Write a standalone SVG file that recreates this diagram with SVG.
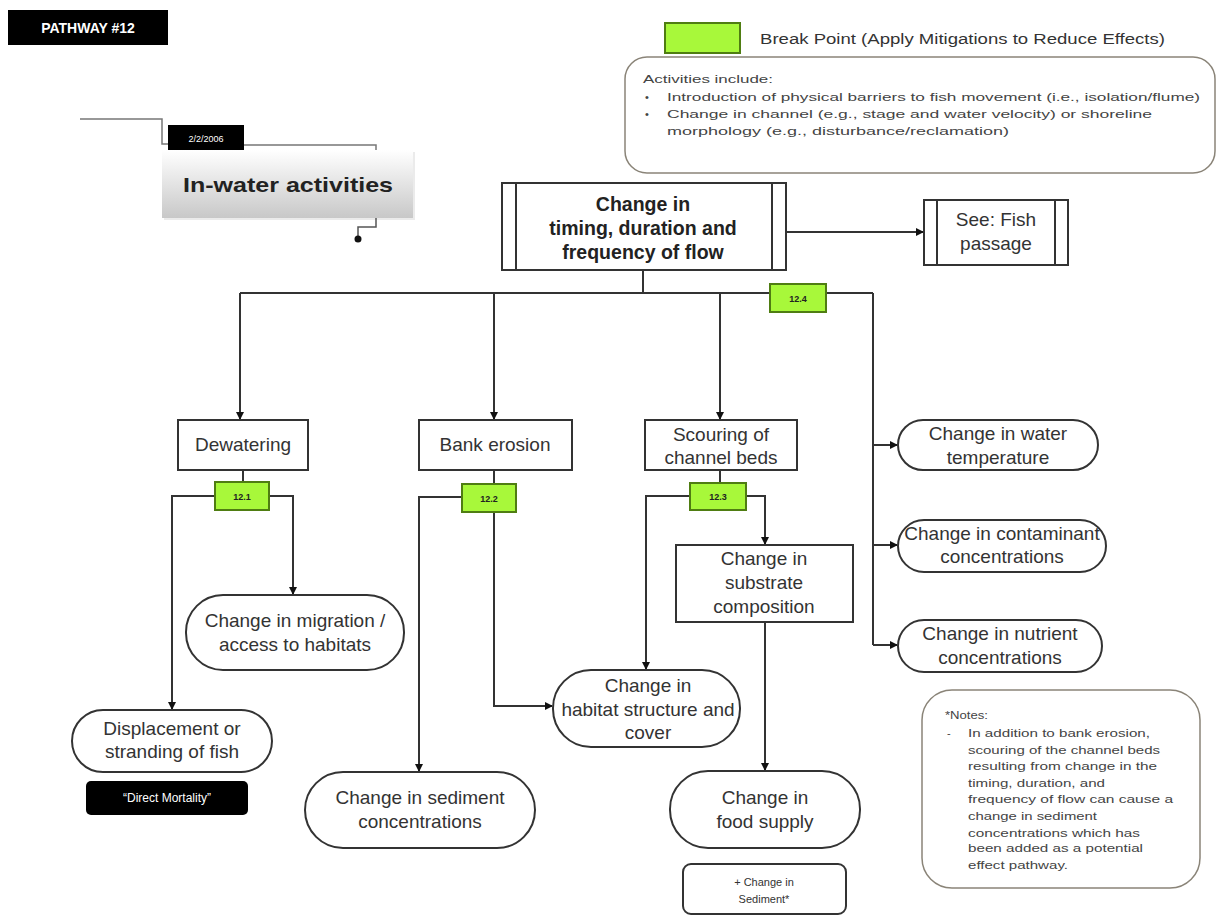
<svg xmlns="http://www.w3.org/2000/svg" width="1217" height="916" viewBox="0 0 1217 916">
<defs>
<marker id="ah" markerWidth="8" markerHeight="8" refX="7" refY="4" orient="auto" markerUnits="userSpaceOnUse">
<path d="M0,0 L8,4 L0,8 Z" fill="#111"/>
</marker>
<linearGradient id="gr" x1="0" y1="0" x2="0" y2="1">
<stop offset="0" stop-color="#ffffff"/>
<stop offset="1" stop-color="#c8c8c8"/>
</linearGradient>
</defs>
<style>
text{font-family:"Liberation Sans",Arial,sans-serif;fill:#333;}
.n{font-size:19px;text-anchor:middle;}
.b{font-weight:bold;fill:#222;font-size:19.5px;}
.box{fill:#fff;stroke:#333;stroke-width:2;}
.gp{fill:#a8f83a;stroke:#4f7d12;stroke-width:2;}
.gt{font-size:9px;font-weight:bold;text-anchor:middle;fill:#222;}
.c{fill:none;stroke:#333;stroke-width:2;}
.ca{fill:none;stroke:#333;stroke-width:2;marker-end:url(#ah);}
.note{fill:#fff;stroke:#8a8478;stroke-width:1.5;}
.s{font-size:11px;fill:#444;}
.ns{font-size:11px;fill:#444;}
</style>
<rect width="1217" height="916" fill="#fff"/>

<g id="pathway">
<rect x="8" y="10" width="160" height="35" fill="#000"/>
<text x="88" y="33" font-size="14" font-weight="bold" text-anchor="middle" style="fill:#fff">PATHWAY #12</text>
</g>

<g id="inwater">
<polyline points="80,119 162,119 162,144 170,144" fill="none" stroke="#777" stroke-width="1.5"/>
<polyline points="243,145 376,145 376,150" fill="none" stroke="#777" stroke-width="1.5"/>
<rect x="164" y="152" width="251" height="68" fill="#ddd" opacity="0.6"/>
<rect x="162" y="150" width="251" height="68" fill="url(#gr)"/>
<rect x="168" y="125" width="76" height="25" fill="#000"/>
<text x="206" y="142" font-size="9" text-anchor="middle" style="fill:#fff">2/2/2006</text>
<text x="183" y="192" font-size="21" font-weight="bold" textLength="210" lengthAdjust="spacingAndGlyphs" style="fill:#222">In-water activities</text>
<polyline points="376,218 376,227 358,227 358,238" fill="none" stroke="#555" stroke-width="1.5"/>
<circle cx="358" cy="239" r="3.5" fill="#111"/>
</g>

<g id="legend">
<rect x="665" y="23" width="75" height="30" class="gp"/>
<text x="760" y="44" font-size="14" textLength="405" lengthAdjust="spacingAndGlyphs" style="fill:#333">Break Point (Apply Mitigations to Reduce Effects)</text>
</g>

<g id="activities">
<rect x="625" y="57" width="590" height="116" rx="22" class="note"/>
<text x="643" y="83" class="s" textLength="130" lengthAdjust="spacingAndGlyphs">Activities include:</text>
<text x="645" y="101" class="s">•</text>
<text x="667" y="101" class="s" textLength="533" lengthAdjust="spacingAndGlyphs">Introduction of physical barriers to fish movement (i.e., isolation/flume)</text>
<text x="645" y="118" class="s">•</text>
<text x="667" y="118" class="s" textLength="485" lengthAdjust="spacingAndGlyphs">Change in channel (e.g., stage and water velocity) or shoreline</text>
<text x="667" y="135" class="s" textLength="342" lengthAdjust="spacingAndGlyphs">morphology (e.g., disturbance/reclamation)</text>
</g>

<g id="connectors">
<polyline class="c" points="643,270 643,293"/>
<polyline class="c" points="240,293 873,293"/>
<polyline class="ca" points="240,293 240,419"/>
<polyline class="ca" points="494,293 494,419"/>
<polyline class="ca" points="720,293 720,419"/>
<polyline class="c" points="873,293 873,645"/>
<polyline class="ca" points="873,445 897,445"/>
<polyline class="ca" points="873,545 897,545"/>
<polyline class="ca" points="873,645 897,645"/>
<polyline class="ca" points="786,232 923,232"/>
<polyline class="c" points="243,470 243,484"/>
<polyline class="ca" points="215,496 172,496 172,709"/>
<polyline class="ca" points="269,496 293,496 293,594"/>
<polyline class="c" points="494,470 494,486"/>
<polyline class="ca" points="462,497 419,497 419,771"/>
<polyline class="ca" points="494,512 494,706 552,706"/>
<polyline class="c" points="720,470 720,485"/>
<polyline class="ca" points="690,496 646,496 646,669"/>
<polyline class="ca" points="746,496 765,496 765,544"/>
<polyline class="ca" points="765,622 765,770"/>
</g>

<g id="main">
<rect x="502" y="183" width="284" height="87" class="box"/>
<line x1="516" y1="183" x2="516" y2="270" stroke="#333" stroke-width="2"/>
<line x1="772" y1="183" x2="772" y2="270" stroke="#333" stroke-width="2"/>
<text x="643" y="211" class="n b">Change in</text>
<text x="643" y="235" class="n b">timing, duration and</text>
<text x="643" y="259" class="n b">frequency of flow</text>
</g>

<g id="fishpassage">
<rect x="924" y="200" width="144" height="65" class="box"/>
<line x1="937" y1="200" x2="937" y2="265" stroke="#333" stroke-width="2"/>
<line x1="1055" y1="200" x2="1055" y2="265" stroke="#333" stroke-width="2"/>
<text x="996" y="226" class="n">See: Fish</text>
<text x="996" y="250" class="n">passage</text>
</g>

<g id="bp124"><rect x="770" y="284" width="56" height="28" class="gp"/><text x="798" y="302" class="gt">12.4</text></g>

<g id="dewatering">
<rect x="178" y="420" width="130" height="50" class="box"/>
<text x="243" y="451" class="n">Dewatering</text>
</g>
<g id="bankerosion">
<rect x="419" y="420" width="153" height="50" class="box"/>
<text x="495" y="451" class="n">Bank erosion</text>
</g>
<g id="scouring">
<rect x="645" y="420" width="152" height="50" class="box"/>
<text x="721" y="441" class="n">Scouring of</text>
<text x="721" y="464" class="n">channel beds</text>
</g>

<g id="watertemp">
<rect x="898" y="420" width="200" height="50" rx="25" class="box"/>
<text x="998" y="440" class="n">Change in water</text>
<text x="998" y="464" class="n">temperature</text>
</g>
<g id="contaminant">
<rect x="898" y="520" width="208" height="52" rx="26" class="box"/>
<text x="1002" y="540" class="n">Change in contaminant</text>
<text x="1002" y="563" class="n">concentrations</text>
</g>
<g id="nutrient">
<rect x="898" y="620" width="204" height="52" rx="26" class="box"/>
<text x="1000" y="640" class="n">Change in nutrient</text>
<text x="1000" y="664" class="n">concentrations</text>
</g>

<g id="bp121"><rect x="215" y="482" width="54" height="28" class="gp"/><text x="242" y="500" class="gt">12.1</text></g>
<g id="bp122"><rect x="462" y="484" width="54" height="28" class="gp"/><text x="489" y="502" class="gt">12.2</text></g>
<g id="bp123"><rect x="690" y="483" width="56" height="27" class="gp"/><text x="718" y="500" class="gt">12.3</text></g>

<g id="migration">
<rect x="186" y="595" width="218" height="75" rx="37" class="box"/>
<text x="295" y="627" class="n">Change in migration /</text>
<text x="295" y="651" class="n">access to habitats</text>
</g>
<g id="displacement">
<rect x="72" y="710" width="200" height="62" rx="31" class="box"/>
<text x="172" y="735" class="n">Displacement or</text>
<text x="172" y="758" class="n">stranding of fish</text>
</g>
<g id="mortality">
<rect x="86" y="781" width="162" height="34" rx="5" fill="#000"/>
<text x="167" y="802" font-size="12" text-anchor="middle" style="fill:#fff">“Direct Mortality”</text>
</g>

<g id="substrate">
<rect x="676" y="545" width="177" height="77" class="box"/>
<text x="764" y="565" class="n">Change in</text>
<text x="764" y="589" class="n">substrate</text>
<text x="764" y="613" class="n">composition</text>
</g>
<g id="habitat">
<rect x="553" y="670" width="187" height="77" rx="38" class="box"/>
<text x="648" y="692" class="n">Change in</text>
<text x="648" y="716" class="n">habitat structure and</text>
<text x="648" y="739" class="n">cover</text>
</g>
<g id="sediment">
<rect x="305" y="772" width="230" height="76" rx="38" class="box"/>
<text x="420" y="804" class="n">Change in sediment</text>
<text x="420" y="828" class="n">concentrations</text>
</g>
<g id="food">
<rect x="670" y="771" width="190" height="77" rx="38" class="box"/>
<text x="765" y="804" class="n">Change in</text>
<text x="765" y="828" class="n">food supply</text>
</g>
<g id="plussediment">
<rect x="683" y="864" width="163" height="50" rx="8" class="box"/>
<text x="764" y="886" font-size="11" text-anchor="middle" style="fill:#333">+ Change in</text>
<text x="764" y="903" font-size="11" text-anchor="middle" style="fill:#333">Sediment*</text>
</g>

<g id="notes">
<rect x="922" y="690" width="278" height="198" rx="30" class="note"/>
<text x="945" y="719" class="ns" textLength="43" lengthAdjust="spacingAndGlyphs">*Notes:</text>
<text x="947" y="737" class="ns">-</text>
<text x="968" y="737" class="ns" textLength="182" lengthAdjust="spacingAndGlyphs">In addition  to bank  erosion,</text>
<text x="968" y="754" class="ns" textLength="192" lengthAdjust="spacingAndGlyphs">scouring  of  the channel  beds</text>
<text x="968" y="770" class="ns" textLength="189" lengthAdjust="spacingAndGlyphs">resulting  from change  in the</text>
<text x="968" y="787" class="ns" textLength="137" lengthAdjust="spacingAndGlyphs">timing,  duration,  and</text>
<text x="968" y="803" class="ns" textLength="205" lengthAdjust="spacingAndGlyphs">frequency  of flow can  cause  a</text>
<text x="968" y="820" class="ns" textLength="129" lengthAdjust="spacingAndGlyphs">change  in sediment</text>
<text x="968" y="837" class="ns" textLength="172" lengthAdjust="spacingAndGlyphs">concentrations   which  has</text>
<text x="968" y="852" class="ns" textLength="175" lengthAdjust="spacingAndGlyphs">been added   as a potential</text>
<text x="968" y="869" class="ns" textLength="100" lengthAdjust="spacingAndGlyphs">effect pathway.</text>
</g>
</svg>
